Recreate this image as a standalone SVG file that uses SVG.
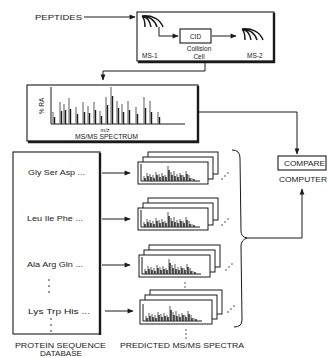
<svg xmlns="http://www.w3.org/2000/svg" width="328" height="358" viewBox="0 0 328 358">
<style>
text{font-family:"Liberation Sans",Arial,sans-serif;fill:#1a1a1a}
.lb{font-size:7.5px}
.sm{font-size:6.5px}
.box{fill:#fff;stroke:#1a1a1a;stroke-width:1.1}
.sh{fill:none;stroke:#1a1a1a;stroke-width:2.4}
.ln{fill:none;stroke:#1a1a1a;stroke-width:1}
.traj{fill:none;stroke:#1a1a1a;stroke-width:1.5}
.pk{stroke:#1a1a1a;stroke-width:1.4}
.pg{stroke:#8a8a8a;stroke-width:1.4}
.card{fill:#fff;stroke:#1a1a1a;stroke-width:1}
.dot{fill:#1a1a1a}
</style>
<defs>
<marker id="ah" viewBox="0 0 10 10" refX="9" refY="5" markerWidth="7" markerHeight="6" orient="auto" markerUnits="userSpaceOnUse">
<path d="M0,1 L10,5 L0,9 z" fill="#1a1a1a"/>
</marker>
<symbol id="mini" viewBox="0 0 72 22" width="72" height="22" overflow="visible">
<path d="M3,2 V19 H62" class="ln"/>
<path class="pg" stroke-width="1" d="M6,19V14 M9,19V11 M12,19V12 M15,19V13 M18,19V10 M21,19V12 M24,19V11 M27,19V13 M30,19V4 M33,19V10 M36,19V9 M39,19V12 M42,19V11 M45,19V13 M48,19V9 M51,19V13 M54,19V16"/>
<path class="pk" stroke-width="1" d="M7,19V16 M10,19V14 M13,19V15 M16,19V16 M19,19V13 M22,19V15 M25,19V14 M28,19V15 M31,19V8 M34,19V13 M37,19V14 M40,19V15 M43,19V13 M46,19V15 M49,19V12 M52,19V16 M56,19V17"/>
</symbol>
</defs>

<g id="peptides">
<text x="35" y="20" class="lb" textLength="47" lengthAdjust="spacingAndGlyphs">PEPTIDES</text>
</g>

<g id="tandem-ms">
<rect x="137" y="12" width="137" height="49" class="box"/>
<path d="M274,13 V62 H138" class="sh"/>
<path class="traj" d="M142,16 C152,15 160,19 163,27 M142,16 C149,16 155,20 157,27 M142,16 C147,17 150,21 151,27 M142,16 C144,18 145,22 145,27"/>
<text x="142" y="58" class="sm">MS-1</text>
<text x="247" y="58" class="sm">MS-2</text>
<path class="traj" d="M242,29 C252,28 260,32 263,40 M242,29 C249,29 255,33 257,40 M242,29 C247,30 250,34 251,40 M242,29 C244,31 245,35 245,40"/>
</g>

<g id="cid">
<rect x="180" y="29" width="31" height="14" class="box"/>
<text x="195.5" y="39" class="sm" text-anchor="middle">CID</text>
<text x="199" y="51" class="sm" text-anchor="middle">Collision</text>
<text x="199" y="59" class="sm" text-anchor="middle">Cell</text>
</g>

<g id="msms-spectrum">
<rect x="27" y="85" width="171" height="56" class="box"/>
<path d="M198,86 V142 H28" class="sh"/>
<path d="M51,87 V124 H185" class="ln"/>
<text x="44" y="106" class="sm" transform="rotate(-90 44 106)" text-anchor="middle">% RA</text>
<path class="pg" d="M53,124V112 M60,124V102 M64,124V104 M69,124V98 M76,124V107 M83,124V102 M88,124V106 M94,124V102 M100,124V111 M106,124V97 M111,124V87 M117,124V101 M122,124V104 M128,124V101 M136,124V107 M144,124V97 M150,124V101 M158,124V112"/>
<path class="pk" d="M54.5,124V117 M61.5,124V111 M65.5,124V110 M70.5,124V109 M77.5,124V114 M84.5,124V112 M89.5,124V113 M95.5,124V110 M101.5,124V116 M107.5,124V105 M112.5,124V96 M118.5,124V108 M123.5,124V112 M129.5,124V110 M137.5,124V114 M145.5,124V108 M151.5,124V112 M159.5,124V117"/>
<text x="105" y="132" font-size="5.5" font-style="italic" text-anchor="middle">m/z</text>
<text x="75" y="139" class="sm" textLength="63" lengthAdjust="spacingAndGlyphs">MS/MS SPECTRUM</text>
</g>

<g id="compare-computer">
<rect x="278" y="156" width="48" height="14" class="box"/>
<text x="284" y="166" class="sm" textLength="41" lengthAdjust="spacingAndGlyphs">COMPARE</text>
<text x="279" y="182" class="sm" textLength="48" lengthAdjust="spacingAndGlyphs">COMPUTER</text>
</g>

<g id="database">
<rect x="13" y="152" width="87" height="182" class="box"/>
<path d="M100,153 V335" class="sh" stroke-width="1.8"/>
<text x="28" y="175" class="sm" textLength="57" lengthAdjust="spacingAndGlyphs">Gly Ser Asp ...</text>
<text x="27" y="221" class="sm" textLength="56" lengthAdjust="spacingAndGlyphs">Leu Ile Phe ...</text>
<text x="27" y="267" class="sm" textLength="56" lengthAdjust="spacingAndGlyphs">Ala Arg Gln ...</text>
<circle cx="49" cy="280" r="0.8" class="dot"/><circle cx="49" cy="286" r="0.8" class="dot"/><circle cx="49" cy="292" r="0.8" class="dot"/>
<text x="28" y="314" class="sm" textLength="62" lengthAdjust="spacingAndGlyphs">Lys Trp His ...</text>
<circle cx="51" cy="319" r="0.8" class="dot"/><circle cx="51" cy="325" r="0.8" class="dot"/><circle cx="51" cy="331" r="0.8" class="dot"/>
<text x="15" y="348" class="sm" textLength="91" lengthAdjust="spacingAndGlyphs">PROTEIN SEQUENCE</text>
<text x="40" y="356" class="sm" textLength="42" lengthAdjust="spacingAndGlyphs">DATABASE</text>
</g>

<g id="predicted-1">
<rect x="148" y="152" width="70" height="22" class="card"/>
<rect x="143" y="157" width="70" height="22" class="card"/>
<rect x="138" y="162" width="70" height="22" class="card" stroke-width="1.3"/>
<use href="#mini" x="138" y="162"/>
<circle cx="222" cy="179" r="0.7" class="dot"/><circle cx="225" cy="176" r="0.7" class="dot"/><circle cx="228" cy="173" r="0.7" class="dot"/>
</g>

<g id="predicted-2">
<rect x="148" y="198" width="70" height="22" class="card"/>
<rect x="143" y="203" width="70" height="22" class="card"/>
<rect x="138" y="208" width="70" height="22" class="card" stroke-width="1.3"/>
<use href="#mini" x="138" y="208"/>
<circle cx="222" cy="225" r="0.7" class="dot"/><circle cx="225" cy="222" r="0.7" class="dot"/><circle cx="228" cy="219" r="0.7" class="dot"/>
</g>

<g id="predicted-3">
<rect x="149" y="245" width="71" height="22" class="card"/>
<rect x="144" y="250" width="71" height="22" class="card"/>
<rect x="139" y="255" width="71" height="22" class="card" stroke-width="1.3"/>
<use href="#mini" x="139" y="255"/>
<circle cx="226" cy="270" r="0.7" class="dot"/><circle cx="229" cy="267" r="0.7" class="dot"/><circle cx="232" cy="264" r="0.7" class="dot"/>
<circle cx="185" cy="283" r="0.7" class="dot"/><circle cx="185" cy="287" r="0.7" class="dot"/><circle cx="185" cy="291" r="0.7" class="dot"/>
</g>

<g id="predicted-4">
<rect x="150" y="290" width="72" height="24" class="card"/>
<rect x="145" y="295" width="72" height="24" class="card"/>
<rect x="140" y="300" width="72" height="24" class="card" stroke-width="1.3"/>
<use href="#mini" x="140" y="302"/>
<circle cx="228" cy="312" r="0.7" class="dot"/><circle cx="231" cy="309" r="0.7" class="dot"/><circle cx="234" cy="306" r="0.7" class="dot"/>
<circle cx="186" cy="330" r="0.7" class="dot"/><circle cx="186" cy="334" r="0.7" class="dot"/><circle cx="186" cy="338" r="0.7" class="dot"/>
<text x="120" y="348" class="sm" textLength="124" lengthAdjust="spacingAndGlyphs">PREDICTED MS/MS SPECTRA</text>
</g>

<g id="connectors">
<line x1="84" y1="17" x2="135" y2="17" class="ln" marker-end="url(#ah)"/>
<path d="M159,27 V36 H178" class="ln" marker-end="url(#ah)"/>
<line x1="212" y1="36" x2="236" y2="36" class="ln" marker-end="url(#ah)"/>
<path d="M205,62 V71 H103 V80" class="ln" marker-end="url(#ah)"/>
<path d="M199,112 H297 V154" class="ln" marker-end="url(#ah)"/>
<path d="M246,238 H302 V189" class="ln" marker-end="url(#ah)"/>
<line x1="102" y1="173" x2="130" y2="173" class="ln" marker-end="url(#ah)"/>
<line x1="102" y1="219" x2="130" y2="219" class="ln" marker-end="url(#ah)"/>
<line x1="102" y1="265" x2="130" y2="265" class="ln" marker-end="url(#ah)"/>
<line x1="105" y1="311" x2="133" y2="311" class="ln" marker-end="url(#ah)"/>
<path d="M232,150 Q240,150 240,158 L241,231 Q241,237 247,238 Q241,240 241,246 L242,320 Q242,327 234,327" class="ln" stroke-width="1.2"/>
</g>
</svg>
